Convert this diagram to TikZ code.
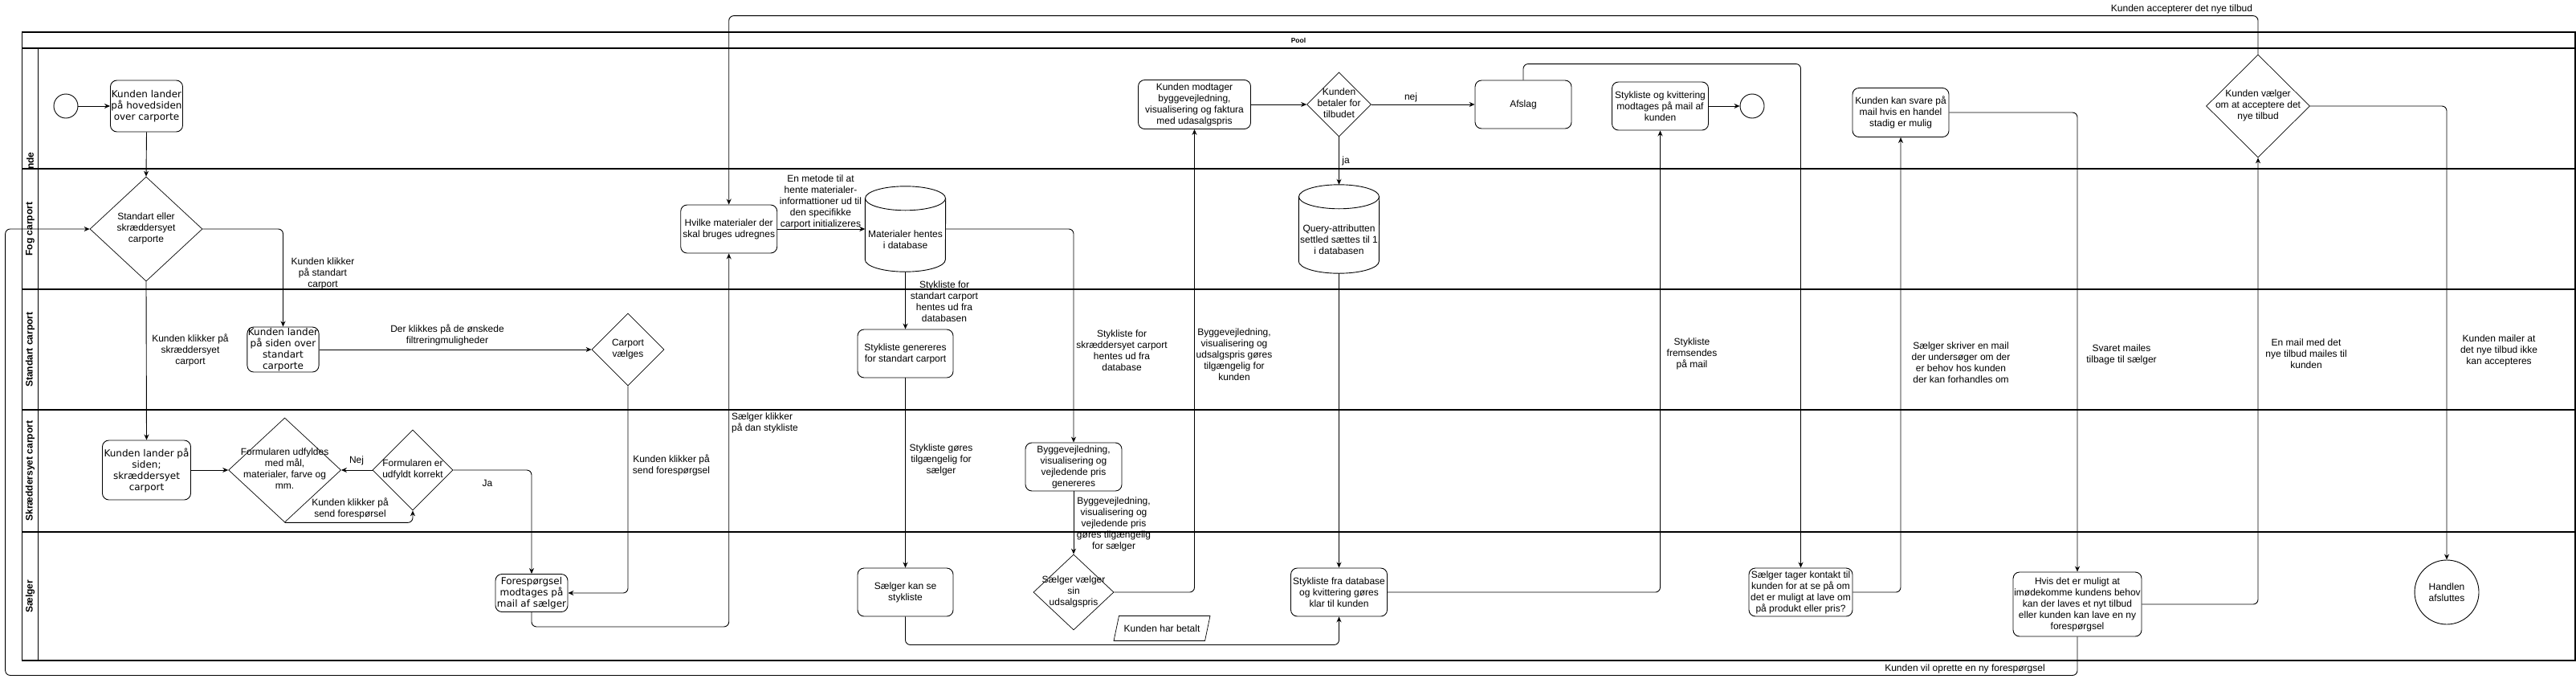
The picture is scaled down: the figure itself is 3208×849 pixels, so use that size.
\documentclass[tikz,border=0pt]{standalone}
\usepackage{fontspec}
\setmainfont{Liberation Sans}
\newfontfamily\boxfont{DejaVu Sans}
\usetikzlibrary{positioning,shapes.geometric,arrows.meta,calc}

% text that does not grow its shape
\newcommand{\gatetext}[1]{\smash{\makebox[0pt]{\raisebox{-0.25em}{\begin{tabular}{@{}c@{}}#1\end{tabular}}}}}
\newcommand{\storetext}[1]{\smash{\makebox[0pt]{\raisebox{-18pt}{\begin{tabular}{@{}c@{}}#1\end{tabular}}}}}

\begin{document}
\begin{tikzpicture}[x=1pt,y=-1pt,font=\fontsize{12}{14}\selectfont,
    task/.style={draw,rounded corners=8pt,align=center,inner sep=1pt,line width=0.9pt},
    bigtask/.style={task,font=\boxfont\fontsize{12}{14}\selectfont},
    gate/.style={draw,diamond,inner sep=0pt,line width=0.7pt},
    store/.style={inner sep=0pt,minimum width=100pt},
    event/.style={draw,circle,inner sep=0pt,align=center,line width=0.9pt},
    flow/.style={-{Stealth[length=7pt,width=6pt]},rounded corners=6pt,line width=0.9pt},
    note/.style={align=center,inner sep=0pt},
    lanehead/.style={rotate=90,font=\fontsize{12}{14}\selectfont\bfseries}]

    \useasboundingbox (0,0) rectangle (3208,849);

    % Pool and lanes
    \draw[line width=1.2pt] (27.5,40) rectangle (3207,822);
    \foreach \y in {60,210,360,510,662}
        \draw[line width=1.2pt] (27.5,\y) -- (3207,\y);
    \draw[line width=1.2pt] (47.5,60) -- (47.5,822);
    \node[font=\fontsize{8.5}{10}\selectfont\bfseries] (pool) at (1617,50) {Pool};
    \node[lanehead] (laneK) at (37.5,200) {nde};
    \node[lanehead] (laneF) at (37.5,285) {Fog carport};
    \node[lanehead] (laneS) at (37.5,435) {Standart carport};
    \node[lanehead] (laneC) at (37.5,586) {Skræddersyet carport};
    \node[lanehead] (laneG) at (37.5,742) {Sælger};

    % Kunde lane
    \node[event,minimum size=30pt] (start) at (82,132) {};
    \node[bigtask,minimum width=90pt,minimum height=64pt] (k1) at (182.5,132) {Kunden lander\\på hovedsiden\\over carporte};
    \node[task,minimum width=140pt,minimum height=61pt] (km) at (1487.5,130) {Kunden modtager\\byggevejledning,\\visualisering og faktura\\med udasalgspris};
    \node[gate,minimum width=80pt,minimum height=80pt] (kb) at (1667.5,130) {\gatetext{Kunden\\betaler for\\tilbudet}};
    \node[task,minimum width=120pt,minimum height=60pt] (af) at (1897,130) {Afslag};
    \node[task,minimum width=120pt,minimum height=60pt] (sm) at (2067.5,132) {Stykliste og kvittering\\modtages på mail af\\kunden};
    \node[event,minimum size=30pt] (endc) at (2182,132) {};
    \node[task,minimum width=120pt,minimum height=61pt] (ks) at (2367,140) {Kunden kan svare på\\mail hvis en handel\\stadig er mulig};
    \node[gate,minimum width=129pt,minimum height=128pt] (kv) at (2812,132) {\gatetext{Kunden vælger\\om at acceptere det\\nye tilbud}};

    % Fog carport lane
    \node[gate,minimum width=140pt,minimum height=130pt] (d1) at (182,285) {\gatetext{Standart eller\\skræddersyet\\carporte}};
    \node[task,minimum width=120pt,minimum height=60pt] (h1) at (907.7,285) {Hvilke materialer der\\skal bruges udregnes};
    \node[store,minimum height=106pt] (db1) at (1127.5,285) {\storetext{Materialer hentes\\i database}};
    \node[store,minimum height=110pt] (db2) at (1667.5,285) {\storetext{Query-attributten\\settled sættes til 1\\i databasen}};
    % cylinder outlines
    \foreach \n in {db1,db2} {
        \draw[line width=0.9pt] ($(\n.north west)+(0,15)$) -- ($(\n.south west)+(0,-15)$)
            arc[start angle=180,end angle=360,x radius=50pt,y radius=15pt] -- ($(\n.north east)+(0,15)$);
        \draw[line width=0.9pt] ($(\n.north)+(0,15)$) ellipse[x radius=50pt,y radius=15pt];
    }

    % Standart carport lane
    \node[bigtask,minimum width=89pt,minimum height=56pt] (s1) at (352.5,435) {Kunden lander\\på siden over\\standart\\carporte};
    \node[gate,minimum width=90pt,minimum height=90pt] (v1) at (782,435) {\gatetext{Carport\\vælges}};
    \node[task,minimum width=119pt,minimum height=60pt] (sg) at (1127.5,440) {Stykliste genereres\\for standart carport};

    % Skraeddersyet carport lane
    \node[bigtask,minimum width=110pt,minimum height=74pt] (c1) at (182.5,585) {Kunden lander på\\siden;\\skræddersyet\\carport};
    \node[gate,minimum width=140pt,minimum height=130pt] (f1) at (354.6,585) {\gatetext{Formularen udfyldes\\med mål,\\materialer, farve og\\mm.}};
    \node[gate,minimum width=100pt,minimum height=100pt] (f2) at (514,585) {\gatetext{Formularen er\\udfyldt korrekt}};
    \node[task,minimum width=120pt,minimum height=60pt] (bv) at (1337,581) {Byggevejledning,\\visualisering og\\vejledende pris\\genereres};

    % Saelger lane
    \node[bigtask,minimum width=90pt,minimum height=47pt] (r1) at (662,738) {Forespørgsel\\modtages på\\mail af sælger};
    \node[task,minimum width=119pt,minimum height=60pt] (sk) at (1127.5,737) {Sælger kan se\\stykliste};
    \node[gate,minimum width=100pt,minimum height=94pt] (sv) at (1337,737) {\gatetext{Sælger vælger\\sin\\udsalgspris}};
    \node[draw,trapezium,trapezium left angle=57,trapezium right angle=123,trapezium stretches=true,
          minimum width=120pt,minimum height=31pt,inner sep=0pt,line width=0.7pt] (pay) at (1447,782) {Kunden har betalt};
    \node[task,minimum width=120pt,minimum height=60pt] (sf) at (1667.5,737) {Stykliste fra database\\og kvittering gøres\\klar til kunden};
    \node[task,minimum width=129pt,minimum height=60pt] (skt) at (2242.5,737) {Sælger tager kontakt til\\kunden for at se på om\\det er muligt at lave om\\på produkt eller pris?};
    \node[task,minimum width=160pt,minimum height=80pt] (hv) at (2587,752) {Hvis det er muligt at\\imødekomme kundens behov\\kan der laves et nyt tilbud\\eller kunden kan lave en ny\\forespørgsel};
    \node[event,minimum size=80pt] (ha) at (3047,737) {Handlen\\afsluttes};

    % Connectors
    \draw[flow] (start) -- (k1);
    \draw[flow] (k1.south) -- (d1.north);
    \draw[flow] (d1.east) -| (s1.north);
    \draw[flow] (d1.south) -- (c1.north);
    \draw[flow] (c1.east) -- (f1.west);
    \draw[flow] (f2.west) -- (f1.east);
    \draw[flow] (f1.south) -| (f2.south);
    \draw[flow] (f2.east) -| (r1.north);
    \draw[flow] (s1.east) -- (v1.west);
    \draw[flow] (v1.south) |- (r1.east);
    \draw[flow] (r1.south) -- ++(0,18) -| (h1.south);
    \draw[flow] (h1.east) -- (db1.west);
    \draw[flow] (db1.south) -- (sg.north);
    \draw[flow] (db1.east) -| (bv.north);
    \draw[flow] (sg.south) -- (sk.north);
    \draw[flow] (bv.south) -- (sv.north);
    \draw[flow] (sv.east) -| (km.south);
    \draw[flow] (km.east) -- (kb.west);
    \draw[flow] (kb.east) -- (af.west);
    \draw[flow] (kb.south) -- (db2.north);
    \draw[flow] (db2.south) -- (sf.north);
    \draw[flow] (sk.south) -- ++(0,35) -| (sf.south);
    \draw[flow] (sf.east) -| (sm.south);
    \draw[flow] (sm.east) -- (endc.west);
    \draw[flow] (af.north) -- ++(0,-20) -| (skt.north);
    \draw[flow] (skt.east) -| (ks.south);
    \draw[flow] (ks.east) -| (hv.north);
    \draw[flow] (hv.east) -| (kv.south);
    \draw[flow] (kv.north) -- ++(0,-48) -| (h1.north);
    \draw[flow] (kv.east) -| (ha.north);
    \draw[flow] (hv.south) -- ++(0,48) -| ($(d1.west)-(105,0)$) -- (d1.west);

    % Connector labels
    \node[note] (lks) at (402,340) {Kunden klikker\\på standart\\carport};
    \node[note] (lkk) at (237,436) {Kunden klikker på\\skræddersyet\\carport};
    \node[note] (lder) at (557,417) {Der klikkes på de ønskede\\filtreringmuligheder};
    \node[note] (lnej) at (444,573) {Nej};
    \node[note] (lsend) at (436,633) {Kunden klikker på\\send forespørsel};
    \node[note] (lja) at (607,601) {Ja};
    \node[note] (lsendb) at (836,579) {Kunden klikker på\\send forespørgsel};
    \node[note,align=left] (ldan) at (952.5,526) {Sælger klikker\\på dan stykliste};
    \node[note] (lmetode) at (1022,251) {En metode til at\\hente materialer-\\informattioner ud til\\den specifikke\\carport initializeres};
    \node[note] (lstd) at (1176,375) {Stykliste for\\standart carport\\hentes ud fra\\databasen};
    \node[note] (lskr) at (1397,436) {Stykliste for\\skræddersyet carport\\hentes ud fra\\database};
    \node[note] (lgoer) at (1172,572) {Stykliste gøres\\tilgængelig for\\sælger};
    \node[note] (lbyga) at (1387,652) {Byggevejledning,\\visualisering og\\vejledende pris\\gøres tilgængelig\\for sælger};
    \node[note] (lbygb) at (1537,441) {Byggevejledning,\\visualisering og\\udsalgspris gøres\\tilgængelig for\\kunden};
    \node[note] (lnejb) at (1757,121) {nej};
    \node[note] (ljab) at (1676,200) {ja};
    \node[note] (lfrem) at (2107,440) {Stykliste\\fremsendes\\på mail};
    \node[note] (lskriv) at (2442,451) {Sælger skriver en mail\\der undersøger om der\\er behov hos kunden\\der kan forhandles om};
    \node[note] (lsvar) at (2642,441) {Svaret mailes\\tilbage til sælger};
    \node[note] (lmail) at (2872,440) {En mail med det\\nye tilbud mailes til\\kunden};
    \node[note] (lmailer) at (3112,436) {Kunden mailer at\\det nye tilbud ikke\\kan accepteres};
    \node[note] (lacc) at (2717,11) {Kunden accepterer det nye tilbud};
    \node[note] (lny) at (2447,832) {Kunden vil oprette en ny forespørgsel};
\end{tikzpicture}
\end{document}
